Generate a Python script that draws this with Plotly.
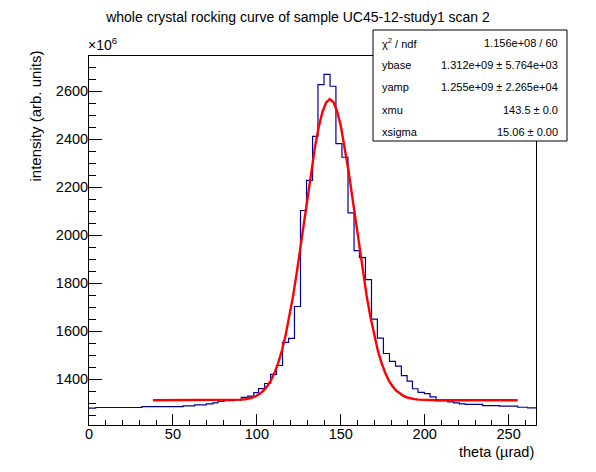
import numpy as np
import plotly.graph_objs as go

# histogram (intensity in units of 1e6)
bin_edges = [0.0, 4.0, 31.5, 56.0, 62.9, 69.9, 73.8, 76.8, 80.4, 86.7,
             90.7, 94.6, 98.2, 101.0, 104.6, 108.2, 111.7, 115.3, 118.9, 122.4,
             126.0, 129.6, 133.2, 136.4, 140.0, 143.6, 147.1, 150.7, 154.3, 157.9,
             161.1, 164.7, 168.3, 171.8, 175.4, 179.0, 182.6, 186.1, 189.5, 192.7,
             196.0, 199.8, 203.2, 206.8, 213.7, 217.3, 220.7, 224.0, 234.5, 244.5,
             255.4, 261.3, 266.3]
bin_counts = [1279, 1282, 1286, 1289, 1293, 1297, 1301, 1307, 1311, 1314,
              1324, 1329, 1344, 1361, 1382, 1420, 1457, 1553, 1570, 1703,
              2103, 2229, 2412, 2628, 2670, 2621, 2382, 2325, 2093, 1936,
              1907, 1815, 1650, 1571, 1507, 1474, 1454, 1415, 1392, 1360,
              1345, 1340, 1326, 1311, 1305, 1301, 1297, 1295, 1290, 1288,
              1283, 1280]

# gaussian fit parameters from the stat box (ybase, yamp in units of 1e6)
fit_ybase = 1312.0
fit_yamp = 1255.0
fit_mu = 143.5
fit_sigma = 15.06
fit_range = [38.1, 255.4]

stat_labels = ["χ<sup>2</sup> / ndf", "ybase", "yamp", "xmu", "xsigma"]
stat_values = ["1.156e+08 / 60", "1.312e+09 ± 5.764e+03", "1.255e+09 ± 2.265e+04",
               "143.5 ± 0.0", "15.06 ± 0.00"]

FONT = "Liberation Sans, Arial, Helvetica, sans-serif"
OFF = 8  # page body margin, figure starts at (8, 8) of the window
W, H = 596 - OFF, 472 - OFF
# frame in window pixels: x 89..536, y 56..425
ML, MR, MT, MB = 89 - OFF, 596 - 536, 56 - OFF, 472 - 425
PW, PH = W - ML - MR, H - MT - MB


def px_x(p):
    # window pixel -> paper x
    return (p - OFF - ML) / PW


def px_y(p):
    # window pixel -> paper y
    return (H - MB - (p - OFF)) / PH


fig = go.Figure()
fig.add_trace(go.Scatter(
    x = bin_edges, y = bin_counts + [bin_counts[-1]], mode = "lines",
    line = dict(shape = "hv", color = "#000099", width = 1.2), showlegend = False))

xf = np.linspace(fit_range[0], fit_range[1], 100)
yf = fit_ybase + fit_yamp * np.exp(-0.5 * ((xf - fit_mu) / fit_sigma) ** 2)
fig.add_trace(go.Scatter(
    x = xf, y = yf, mode = "lines", line = dict(color = "#ff0000", width = 2.4),
    showlegend = False))

# stat box
bx0, bx1, by0, by1 = 373, 567, 30, 141
fig.add_shape(type = "rect", xref = "paper", yref = "paper",
              x0 = px_x(bx0), x1 = px_x(bx1), y0 = px_y(by1), y1 = px_y(by0),
              line = dict(color = "black", width = 1), fillcolor = "white", layer = "above")
row_h = (by1 - by0) / len(stat_labels)
for i, (lab, val) in enumerate(zip(stat_labels, stat_values)):
    yc = px_y(by0 + 2 + row_h * (i + 0.5))
    fig.add_annotation(text = lab, x = px_x(bx0 + 7), y = yc, xref = "paper", yref = "paper",
                       xanchor = "left", yanchor = "middle", showarrow = False,
                       font = dict(family = FONT, size = 11, color = "black"))
    fig.add_annotation(text = val, x = px_x(bx1 - 7), y = yc, xref = "paper", yref = "paper",
                       xanchor = "right", yanchor = "middle", showarrow = False,
                       font = dict(family = FONT, size = 11, color = "black"))

# axis titles and exponent, ROOT style
fig.add_annotation(text = "theta (µrad)", x = 1, y = px_y(452), xref = "paper", yref = "paper",
                   xanchor = "right", yanchor = "middle", showarrow = False,
                   font = dict(family = FONT, size = 14.5, color = "black"))
fig.add_annotation(text = "intensity (arb. units)", x = px_x(35), y = px_y(49), xref = "paper", yref = "paper",
                   xanchor = "center", yanchor = "top", textangle = -90, showarrow = False,
                   font = dict(family = FONT, size = 15, color = "black"))
fig.add_annotation(text = "×10<sup>6</sup>", x = px_x(86), y = px_y(55), xref = "paper", yref = "paper",
                   xanchor = "left", yanchor = "bottom", showarrow = False,
                   font = dict(family = FONT, size = 14, color = "black"))

fig.update_layout(
    title = {'text': "whole crystal rocking curve of sample UC45-12-study1 scan 2",
             'x': (298 - OFF) / W, 'xanchor': 'center', 'y': 1 - (17 - OFF) / H, 'yanchor': 'middle',
             'font': {'family': FONT, 'size': 14, 'color': 'black'}},
    width = W, height = H, autosize = False,
    margin = dict(l = ML, r = MR, t = MT, b = MB, pad = 0),
    paper_bgcolor = "white", plot_bgcolor = "white",
    font = dict(family = FONT, size = 14.5, color = "black"),
    xaxis = dict(range = [0, 266.3], tickmode = "linear", tick0 = 0, dtick = 50,
                 ticks = "inside", ticklen = 11, tickcolor = "black", tickwidth = 1,
                 minor = dict(dtick = 10, ticks = "inside", ticklen = 5.5, tickcolor = "black"),
                 showline = True, linecolor = "black", linewidth = 1, mirror = True,
                 showgrid = False, zeroline = False, ticklabelstandoff = -4,
                 tickfont = dict(family = FONT, size = 14.5, color = "black")),
    yaxis = dict(range = [1209, 2747], tickmode = "linear", tick0 = 1400, dtick = 200,
                 ticks = "inside", ticklen = 13, tickcolor = "black", tickwidth = 1,
                 minor = dict(dtick = 50, ticks = "inside", ticklen = 6.5, tickcolor = "black"),
                 showline = True, linecolor = "black", linewidth = 1, mirror = True,
                 showgrid = False, zeroline = False, ticklabelstandoff = -3,
                 tickfont = dict(family = FONT, size = 14.5, color = "black")),
)

fig.write_html("out.html")
